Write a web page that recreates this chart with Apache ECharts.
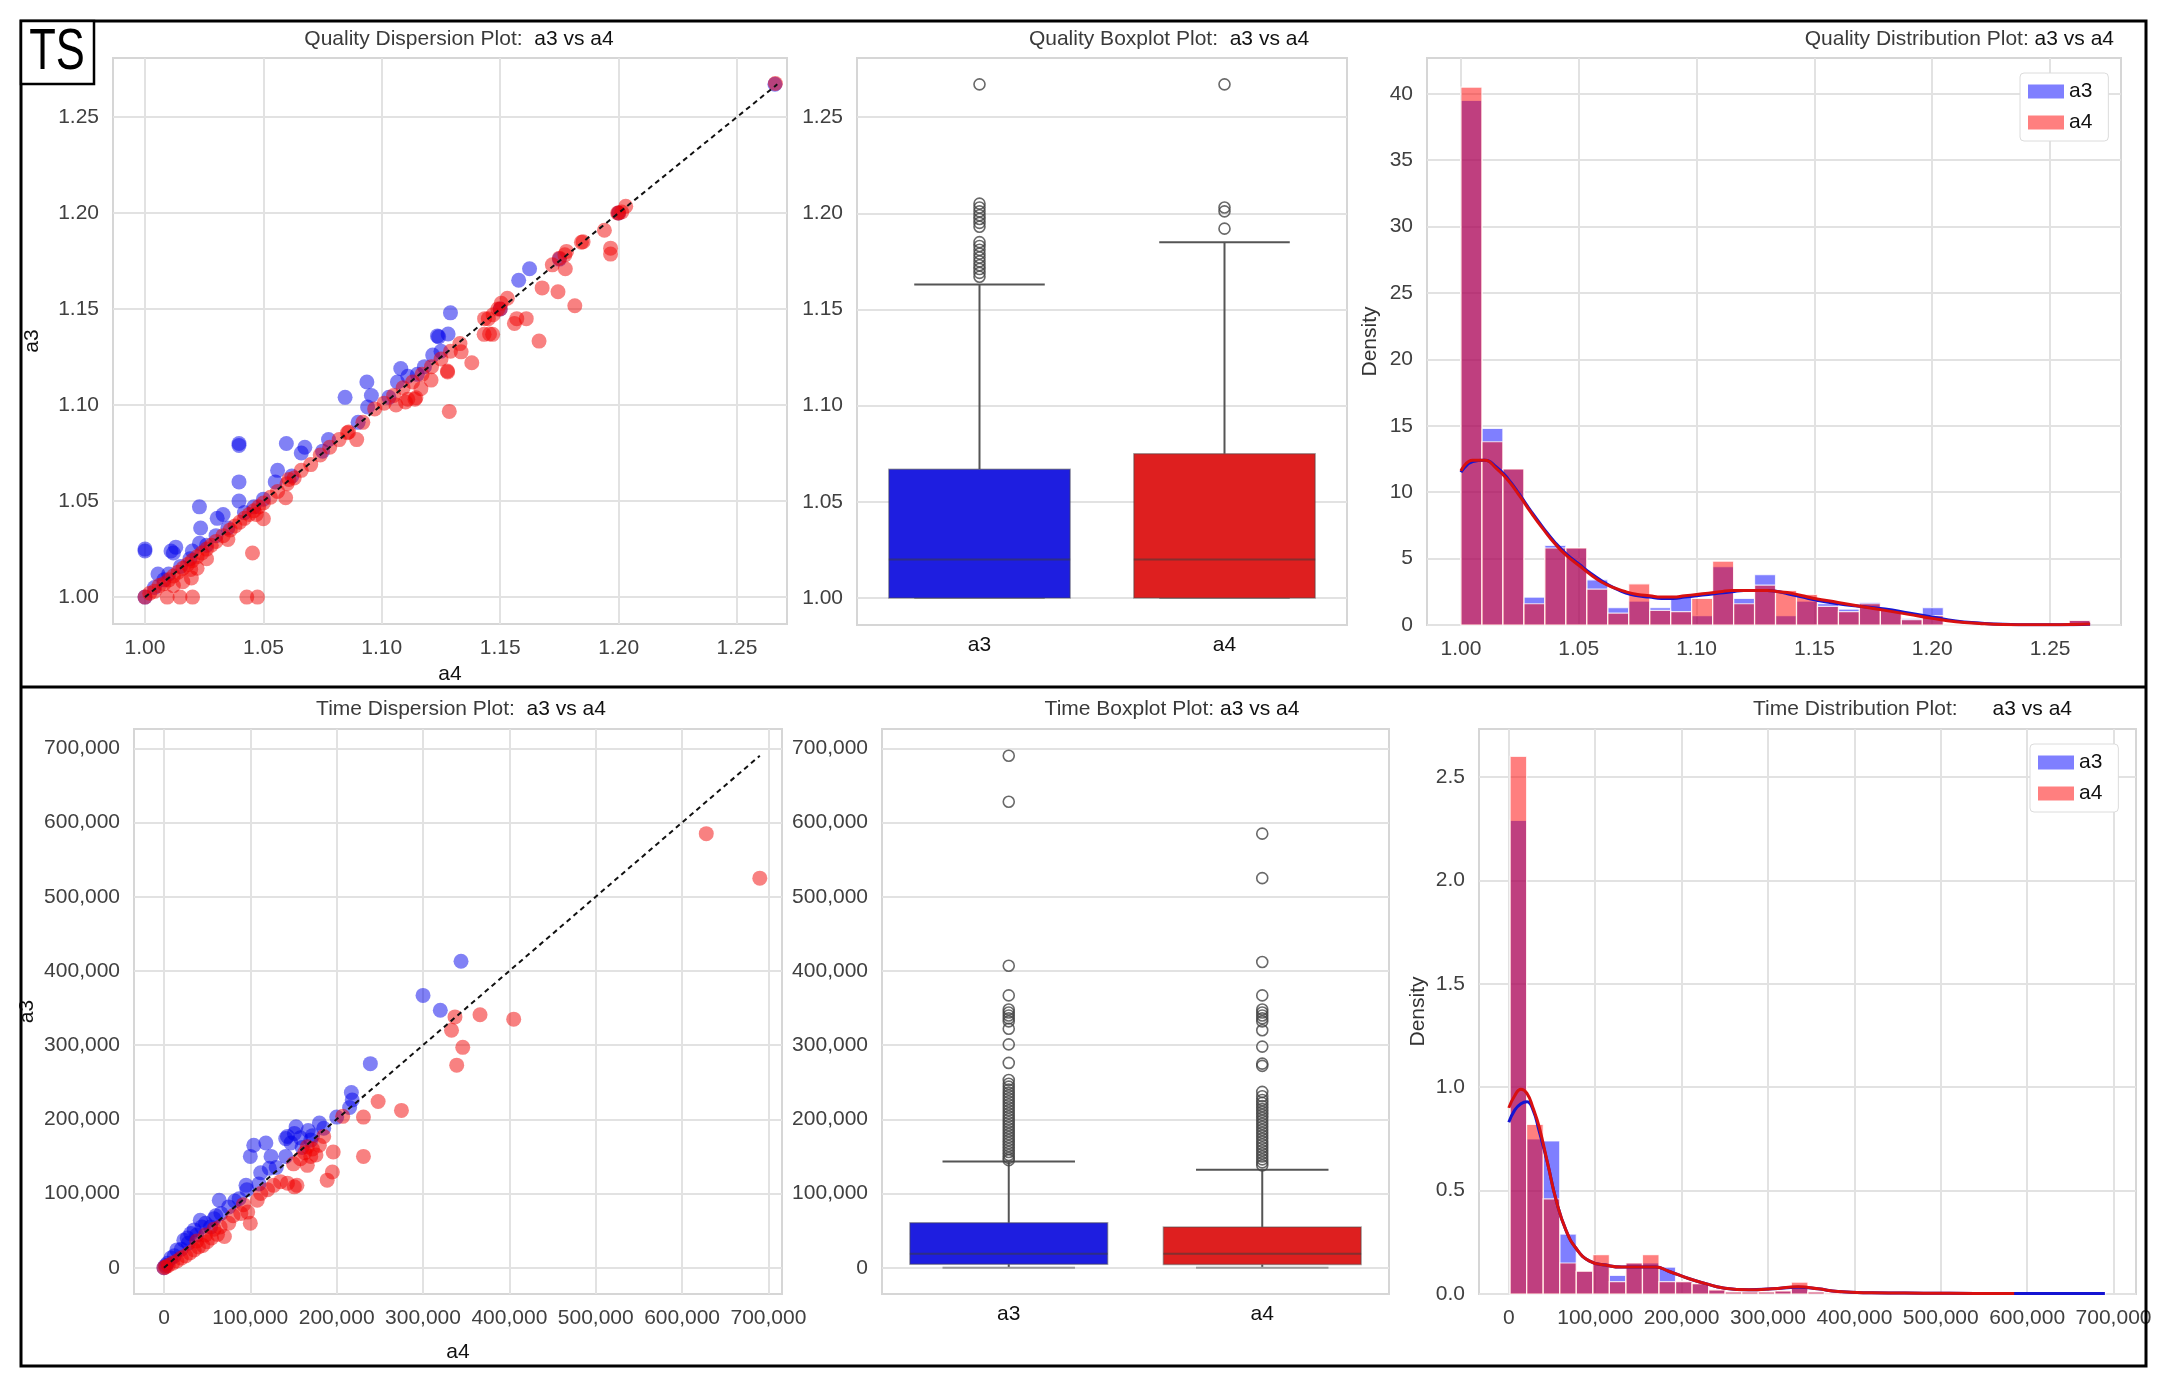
<!DOCTYPE html>
<html>
<head>
<meta charset="utf-8">
<title>Quality / Time: a3 vs a4</title>
<script src="https://cdn.jsdelivr.net/npm/echarts@6.0.0/dist/echarts.min.js"></script>
<style>
  html, body { margin: 0; padding: 0; background: #fff; }
  #chart { width: 2166px; height: 1384px; }
</style>
</head>
<body>
<div id="chart"></div>
<script>
// ---------- data ----------
const qualityTicks = [1.00, 1.05, 1.10, 1.15, 1.20, 1.25];
const timeTicks = [0, 100000, 200000, 300000, 400000, 500000, 600000, 700000];
const qualityDensityTicks = [0, 5, 10, 15, 20, 25, 30, 35, 40];
const timeDensityTicks = [0, 0.5, 1.0, 1.5, 2.0, 2.5];
const boxCategories = ['a3', 'a4'];

// dispersion plots: [x, y]
const qualityBluePoints = [
  [1.000, 1.025], [1.000, 1.024], [1.0055, 1.012], [1.011, 1.024], [1.013, 1.026], [1.012, 1.023],
  [1.023, 1.047], [1.0235, 1.036], [1.023, 1.028], [1.0305, 1.041], [1.033, 1.043], [1.0397, 1.080],
  [1.0397, 1.079], [1.0397, 1.060], [1.0397, 1.050], [1.056, 1.066], [1.055, 1.060], [1.0597, 1.080],
  [1.0675, 1.078], [1.066, 1.075], [1.0775, 1.082], [1.0845, 1.104], [1.0937, 1.112], [1.0956, 1.105],
  [1.094, 1.099], [1.108, 1.119], [1.1066, 1.112], [1.111, 1.115], [1.1215, 1.126], [1.124, 1.1355],
  [1.1235, 1.136], [1.128, 1.137], [1.129, 1.148], [1.1578, 1.165], [1.1624, 1.171],
  [1.000, 1.000], [1.004, 1.005], [1.008, 1.009], [1.010, 1.012], [1.015, 1.016], [1.019, 1.020],
  [1.020, 1.024], [1.026, 1.027], [1.030, 1.032], [1.035, 1.036], [1.042, 1.044], [1.046, 1.047],
  [1.050, 1.051], [1.062, 1.063], [1.075, 1.076], [1.090, 1.091], [1.103, 1.104], [1.115, 1.116],
  [1.118, 1.120], [1.125, 1.128], [1.150, 1.150], [1.175, 1.176], [1.200, 1.200], [1.266, 1.267]
];
const qualityRedPoints = [
  [1.000, 1.000], [1.002, 1.002], [1.004, 1.003], [1.006, 1.006], [1.008, 1.007], [1.010, 1.009],
  [1.012, 1.011], [1.014, 1.013], [1.016, 1.015], [1.018, 1.017], [1.020, 1.019], [1.022, 1.021],
  [1.024, 1.023], [1.026, 1.025], [1.028, 1.027], [1.030, 1.029], [1.033, 1.032], [1.036, 1.035],
  [1.038, 1.037], [1.040, 1.039], [1.042, 1.041], [1.044, 1.043], [1.046, 1.045], [1.048, 1.047],
  [1.050, 1.049], [1.053, 1.052], [1.056, 1.055], [1.060, 1.059], [1.063, 1.062], [1.066, 1.066],
  [1.070, 1.069], [1.074, 1.074], [1.078, 1.078], [1.082, 1.082], [1.086, 1.086], [1.092, 1.091],
  [1.097, 1.098], [1.101, 1.101], [1.105, 1.105], [1.109, 1.109], [1.113, 1.112], [1.117, 1.116],
  [1.121, 1.120], [1.125, 1.124], [1.129, 1.128], [1.133, 1.132], [1.145, 1.145], [1.150, 1.150],
  [1.153, 1.1556], [1.172, 1.173], [1.178, 1.180], [1.185, 1.185], [1.200, 1.200], [1.203, 1.2035],
  [1.2013, 1.2005], [1.2662, 1.2674],
  [1.0094, 1.000], [1.0148, 1.000], [1.0201, 1.000], [1.043, 1.000], [1.0475, 1.000], [1.0454, 1.023],
  [1.0196, 1.010], [1.0193, 1.0144], [1.012, 1.006], [1.016, 1.008], [1.022, 1.015], [1.026, 1.020],
  [1.035, 1.030], [1.050, 1.0408], [1.047, 1.043], [1.0594, 1.0517], [1.0608, 1.0613], [1.0894, 1.082],
  [1.0855, 1.0856], [1.106, 1.100], [1.111, 1.103], [1.1144, 1.1038], [1.1285, 1.0967], [1.1277, 1.1177],
  [1.138, 1.122], [1.1335, 1.1277], [1.1208, 1.113], [1.1165, 1.1085], [1.114, 1.103], [1.110, 1.1016],
  [1.1278, 1.1172], [1.1432, 1.1368], [1.1468, 1.1368], [1.1434, 1.145], [1.1455, 1.137], [1.147, 1.147],
  [1.149, 1.150], [1.1504, 1.153], [1.156, 1.1425], [1.161, 1.145], [1.157, 1.145], [1.1664, 1.1333],
  [1.1677, 1.161], [1.1744, 1.159], [1.1815, 1.1517], [1.175, 1.1765], [1.1775, 1.171], [1.1773, 1.1782],
  [1.1843, 1.1848], [1.194, 1.191], [1.1966, 1.1817], [1.1966, 1.1786], [1.1996, 1.200]
];
const timeBluePoints = [
  [344000, 413000], [300000, 367000], [320000, 347000], [239000, 275000], [217000, 236000], [218000, 226000],
  [215000, 216000], [180000, 195000], [153000, 190000], [143000, 177000], [147000, 168000], [141000, 174000],
  [151000, 181000], [104000, 165000], [118000, 168000], [100000, 150000], [124000, 150000], [141000, 150000],
  [112000, 128000], [122000, 134000], [95000, 111000], [96000, 105000], [64000, 91000], [87000, 93000],
  [42000, 64000], [48000, 60000], [54000, 55000], [31000, 46000], [35000, 51000], [23000, 37000],
  [15000, 24000], [8000, 13000], [4000, 6000], [66000, 73000], [75000, 82000], [82000, 90000],
  [58000, 66000], [38000, 44000], [28000, 33000], [20000, 25000], [12000, 16000], [2000, 3000],
  [0, 0], [160000, 162000], [170000, 172000], [185000, 188000], [200000, 203000], [130000, 135000],
  [110000, 113000], [158000, 175000], [167000, 185000], [172000, 178000], [27000, 40000], [44000, 55000],
  [60000, 70000]
];
const timeRedPoints = [
  [337000, 338000], [366000, 341000], [405000, 335000], [333000, 320000], [346000, 297000], [339000, 273000],
  [248000, 224000], [275000, 212000], [231000, 203000], [207000, 204000], [231000, 150000], [196000, 156000],
  [195000, 129000], [189000, 118000], [185000, 177000], [166000, 163000], [170000, 150000], [166000, 138000],
  [176000, 152000], [158000, 147000], [151000, 109000], [154000, 111000], [143000, 114000], [135000, 116000],
  [127000, 111000], [120000, 105000], [112000, 100000], [108000, 91000], [100000, 60000], [97000, 75000],
  [89000, 73000], [70000, 42000], [62000, 45000], [55000, 40000], [50000, 35000], [45000, 30000],
  [40000, 28000], [35000, 24000], [30000, 20000], [25000, 16000], [20000, 13000], [15000, 9000],
  [10000, 6000], [5000, 3000], [0, 0], [2000, 1000], [628000, 585000], [690000, 525000],
  [80000, 70000], [92000, 85000], [75000, 60000], [65000, 55000], [58000, 52000], [48000, 44000],
  [38000, 36000], [180000, 165000], [172000, 160000], [163000, 155000], [150000, 140000]
];
const qualityIdentity = [1.0, 1.267];
const timeIdentity = [0, 690000];

// boxplots: [min, q1, median, q3, max]
const qualityBoxA3 = [1.000, 1.000, 1.020, 1.067, 1.163];
const qualityBoxA4 = [1.000, 1.000, 1.020, 1.075, 1.185];
const qualityOutliersA3 = [1.167, 1.169, 1.171, 1.173, 1.175, 1.177, 1.179, 1.181, 1.183, 1.185,
  1.193, 1.195, 1.197, 1.199, 1.201, 1.203, 1.205, 1.267];
const qualityOutliersA4 = [1.192, 1.201, 1.203, 1.267];
const timeBoxA3 = [0, 4600, 19000, 60600, 143000];
const timeBoxA4 = [0, 4300, 19000, 55000, 132000];
const timeOutliersA3 = [690000, 628000, 407000, 367000, 348000, 344000, 340000, 336000, 332000, 322000,
  301000, 276000, 253000, 248000, 244000, 240000, 236000, 232000, 228000, 224000, 220000, 216000,
  212000, 208000, 204000, 200000, 196000, 192000, 188000, 184000, 180000, 176000, 172000, 168000,
  164000, 160000, 156000, 152000, 148000, 145000];
const timeOutliersA4 = [585000, 525000, 412000, 367000, 348000, 344000, 340000, 336000, 332000, 320000,
  298000, 275000, 272000, 237000, 231000, 226000, 222000, 218000, 214000, 210000, 206000, 202000,
  198000, 194000, 190000, 186000, 182000, 178000, 174000, 170000, 166000, 162000, 158000, 154000,
  150000, 146000, 142000, 138000];

// histograms (density per bin)
const qualityBinStart = 1.0;
const qualityBinWidth = 0.0089;
const qualityHistA3 = [39.5, 14.8, 11.75, 2.1, 6.0, 5.8, 3.4, 1.3, 1.8, 1.3, 2.2, 0.7, 4.4, 2.0, 3.8,
  0.7, 1.8, 1.6, 1.2, 1.7, 1.1, 0.5, 1.3, 0, 0, 0, 0, 0, 0, 0.35];
const qualityHistA4 = [40.5, 13.8, 11.75, 1.6, 5.8, 5.8, 2.7, 0.9, 3.1, 1.1, 1.0, 2.0, 4.8, 1.6, 3.0,
  2.6, 2.3, 1.4, 1.0, 1.6, 1.1, 0.4, 0.7, 0, 0, 0, 0, 0, 0, 0.35];
const qualityKdeX = [1.000, 1.005, 1.010, 1.015, 1.020, 1.025, 1.030, 1.035, 1.040, 1.045, 1.050, 1.055,
  1.060, 1.065, 1.070, 1.075, 1.080, 1.085, 1.090, 1.095, 1.100, 1.105, 1.110, 1.115, 1.120, 1.125,
  1.130, 1.135, 1.140, 1.145, 1.150, 1.160, 1.170, 1.180, 1.190, 1.200, 1.210, 1.220, 1.230, 1.240,
  1.250, 1.260, 1.267];
const qualityKdeA3 = [11.5, 12.3, 12.4, 11.9, 11.0, 9.8, 8.5, 7.3, 6.2, 5.3, 4.6, 3.9, 3.3, 2.8, 2.4, 2.2,
  2.1, 2.0, 2.0, 2.1, 2.2, 2.3, 2.4, 2.5, 2.6, 2.6, 2.6, 2.5, 2.3, 2.1, 1.9, 1.6, 1.4, 1.2, 0.9, 0.6,
  0.3, 0.15, 0.05, 0.02, 0.01, 0.02, 0.05];
const qualityKdeA4 = [11.6, 12.4, 12.4, 11.8, 10.9, 9.7, 8.4, 7.2, 6.1, 5.2, 4.5, 3.8, 3.2, 2.8, 2.5, 2.3,
  2.2, 2.1, 2.1, 2.2, 2.3, 2.4, 2.5, 2.6, 2.6, 2.6, 2.6, 2.5, 2.4, 2.2, 2.0, 1.7, 1.4, 1.1, 0.8, 0.5,
  0.25, 0.12, 0.04, 0.02, 0.02, 0.04, 0.08];

const timeBinStart = 1500;
const timeBinWidth = 19150;
const timeHistA3 = [2.29, 0.75, 0.74, 0.29, 0.11, 0.15, 0.09, 0.15, 0.15, 0.13, 0.06, 0.05, 0.02, 0.01,
  0.01, 0.01, 0.015, 0.04, 0.01, 0.005, 0, 0, 0, 0, 0, 0, 0, 0, 0, 0, 0.003, 0, 0.003, 0, 0, 0.003];
const timeHistA4 = [2.60, 0.82, 0.46, 0.15, 0.11, 0.19, 0.06, 0.15, 0.19, 0.06, 0.06, 0.05, 0.02, 0.01,
  0.01, 0.01, 0.015, 0.057, 0.01, 0.005, 0, 0, 0, 0, 0, 0, 0.003, 0, 0, 0, 0.003, 0, 0, 0, 0, 0];
const timeKdeXA3 = [0, 7000, 14000, 21000, 28000, 35000, 45000, 55000, 66000, 78000, 93000, 112000, 131000,
  151000, 170000, 185000, 208000, 228000, 247000, 278000, 305000, 335000, 358000, 381000, 420000,
  480000, 540000, 585000, 640000, 690000];
const timeKdeA3 = [0.83, 0.89, 0.92, 0.93, 0.89, 0.79, 0.63, 0.45, 0.31, 0.22, 0.16, 0.14, 0.13, 0.13, 0.13,
  0.11, 0.075, 0.05, 0.03, 0.02, 0.025, 0.033, 0.025, 0.012, 0.006, 0.004, 0.003, 0.003, 0.002, 0.002];
const timeKdeXA4 = [0, 7000, 14000, 21000, 28000, 35000, 45000, 55000, 66000, 78000, 93000, 112000, 131000,
  151000, 170000, 185000, 208000, 228000, 247000, 278000, 305000, 335000, 358000, 381000, 420000,
  480000, 540000, 585000];
const timeKdeA4 = [0.90, 0.96, 0.99, 0.97, 0.90, 0.81, 0.63, 0.45, 0.31, 0.22, 0.16, 0.14, 0.13, 0.13, 0.13,
  0.11, 0.075, 0.05, 0.03, 0.02, 0.025, 0.035, 0.025, 0.012, 0.006, 0.004, 0.003, 0.002];

// ---------- styling ----------
const FONT = 'Liberation Sans, Arial, sans-serif';
const gridColor = '#e2e2e2';
const labelStyle = { fontFamily: FONT, fontSize: 21, color: '#404040' };
const BLUE_PT = 'rgba(0,0,235,0.62)';
const RED_PT = 'rgba(240,0,0,0.62)';
const BLUE_BAR = 'rgba(0,0,255,0.5)';
const RED_BAR = 'rgba(255,0,0,0.5)';
const POINT_SIZE = 15;

const fmt2 = v => v.toFixed(2);
const fmtThousands = v => Math.round(v).toLocaleString('en-US');
const fmtInt = v => String(Math.round(v));
const fmt1 = v => v.toFixed(1);

function valueAxis(gridIndex, min, max, ticks, formatter, extra) {
  return Object.assign({
    type: 'value',
    gridIndex: gridIndex,
    min: min,
    max: max,
    axisLine: { show: false },
    axisTick: { show: false, customValues: ticks },
    axisLabel: Object.assign({ customValues: ticks, formatter: formatter, margin: 14 }, labelStyle),
    splitLine: { show: true, lineStyle: { color: gridColor, width: 2 } }
  }, extra || {});
}

function categoryAxis(gridIndex) {
  return {
    type: 'category',
    gridIndex: gridIndex,
    data: boxCategories,
    axisLine: { show: false },
    axisTick: { show: false },
    splitLine: { show: false },
    axisLabel: { fontFamily: FONT, fontSize: 21, color: '#111', margin: 10 }
  };
}

const nameStyle = { fontFamily: FONT, fontSize: 21, color: '#111' };

function histRender(fill) {
  return function (params, api) {
    const p0 = api.coord([api.value(0), api.value(2)]);
    const p1 = api.coord([api.value(1), 0]);
    return {
      type: 'rect',
      shape: { x: p0[0], y: p0[1], width: p1[0] - p0[0], height: p1[1] - p0[1] },
      style: { fill: fill, stroke: 'rgba(255,255,255,0.8)', lineWidth: 1.2 }
    };
  };
}

function boxRender(fills, boxFrac, capFrac) {
  return function (params, api) {
    const idx = api.value(0);
    const band = api.size([1, 0])[0];
    const w = band * boxFrac;
    const cw = w * capFrac;
    const cx = api.coord([idx, 0])[0];
    const y = k => api.coord([idx, api.value(k)])[1];
    const yMin = y(1), yQ1 = y(2), yMed = y(3), yQ3 = y(4), yMax = y(5);
    const lineStyle = { stroke: '#555', lineWidth: 2 };
    return {
      type: 'group',
      children: [
        { type: 'line', shape: { x1: cx, y1: yQ3, x2: cx, y2: yMax }, style: lineStyle },
        { type: 'line', shape: { x1: cx, y1: yQ1, x2: cx, y2: yMin }, style: lineStyle },
        { type: 'line', shape: { x1: cx - cw / 2, y1: yMax, x2: cx + cw / 2, y2: yMax }, style: lineStyle },
        { type: 'line', shape: { x1: cx - cw / 2, y1: yMin, x2: cx + cw / 2, y2: yMin }, style: { stroke: '#999', lineWidth: 2 } },
        { type: 'rect', shape: { x: cx - w / 2, y: yQ3, width: w, height: yQ1 - yQ3 },
          style: { fill: fills[idx], stroke: 'rgba(70,70,70,0.45)', lineWidth: 1.5 } },
        { type: 'line', shape: { x1: cx - w / 2, y1: yMed, x2: cx + w / 2, y2: yMed },
          style: { stroke: 'rgba(60,60,60,0.55)', lineWidth: 2 } }
      ]
    };
  };
}

const histBins = (start, width, heights) => heights.map((h, i) => [start + i * width, start + (i + 1) * width, h]);
const pairs = (xs, ys) => xs.map((x, i) => [x, ys[i]]);
const outlierData = (idx, vals) => vals.map(v => [idx, v]);

function outlierSeries(xi, data) {
  return {
    type: 'scatter', xAxisIndex: xi, yAxisIndex: xi, data: data, symbol: 'circle', symbolSize: 11, z: 5,
    itemStyle: { color: 'rgba(255,255,255,0)', borderColor: '#444', borderWidth: 1.6 }
  };
}

const titleRich = {
  g: { fontFamily: FONT, fontSize: 21, fill: '#3a3a3a' },
  k: { fontFamily: FONT, fontSize: 21, fill: '#111' }
};
function titleText(x, y, align, lead, tail) {
  return {
    type: 'text', x: x, y: y,
    style: { text: '{g|' + lead + '}{k|' + tail + '}', rich: titleRich, align: align, verticalAlign: 'middle' }
  };
}

const chart = echarts.init(document.getElementById('chart'), null, { renderer: 'canvas' });

chart.setOption({
  animation: false,
  backgroundColor: '#fff',
  grid: [
    { left: 113, top: 58, width: 674, height: 566 },
    { left: 857, top: 58, width: 490, height: 567 },
    { left: 1427, top: 58, width: 694, height: 567 },
    { left: 134, top: 729, width: 648, height: 565 },
    { left: 882, top: 729, width: 507, height: 565 },
    { left: 1479, top: 729, width: 657, height: 565 }
  ].map(g => Object.assign({ show: true, borderColor: '#d6d6d6', borderWidth: 2, containLabel: false }, g)),
  xAxis: [
    valueAxis(0, 0.9865, 1.2711, qualityTicks, fmt2, { name: 'a4', nameLocation: 'middle', nameGap: 40, nameTextStyle: nameStyle }),
    categoryAxis(1),
    valueAxis(2, 0.9856, 1.2801, qualityTicks, fmt2),
    valueAxis(3, -34700, 715700, timeTicks, fmtThousands, { name: 'a4', nameLocation: 'middle', nameGap: 48, nameTextStyle: nameStyle }),
    categoryAxis(4),
    valueAxis(5, -34500, 726000, timeTicks, fmtThousands)
  ],
  yAxis: [
    valueAxis(0, 0.986, 1.2807, qualityTicks, fmt2, { name: 'a3', nameLocation: 'middle', nameGap: 70, nameTextStyle: nameStyle }),
    valueAxis(1, 0.986, 1.2807, qualityTicks, fmt2),
    valueAxis(2, 0, 42.7, qualityDensityTicks, fmtInt, { name: 'Density', nameLocation: 'middle', nameGap: 46, nameTextStyle: Object.assign({}, nameStyle, { color: '#333' }) }),
    valueAxis(3, -35400, 726000, timeTicks, fmtThousands, { name: 'a3', nameLocation: 'middle', nameGap: 96, nameTextStyle: nameStyle }),
    valueAxis(4, -35400, 726000, timeTicks, fmtThousands),
    valueAxis(5, 0, 2.732, timeDensityTicks, fmt1, { name: 'Density', nameLocation: 'middle', nameGap: 50, nameTextStyle: Object.assign({}, nameStyle, { color: '#333' }) })
  ],
  legend: [
    {
      left: 2020, top: 73, orient: 'vertical', icon: 'rect', itemWidth: 36, itemHeight: 14, itemGap: 10,
      padding: [8, 16, 8, 8], backgroundColor: '#fff', borderColor: '#dcdcdc', borderWidth: 1, borderRadius: 4,
      textStyle: { fontFamily: FONT, fontSize: 21, color: '#111' },
      data: [{ name: 'a3', itemStyle: { color: BLUE_BAR } }, { name: 'a4', itemStyle: { color: RED_BAR } }]
    },
    {
      left: 2030, top: 744, orient: 'vertical', icon: 'rect', itemWidth: 36, itemHeight: 14, itemGap: 10,
      padding: [8, 16, 8, 8], backgroundColor: '#fff', borderColor: '#dcdcdc', borderWidth: 1, borderRadius: 4,
      textStyle: { fontFamily: FONT, fontSize: 21, color: '#111' },
      data: [{ name: 'a3', itemStyle: { color: BLUE_BAR } }, { name: 'a4', itemStyle: { color: RED_BAR } }]
    }
  ],
  series: [
    // quality dispersion
    { type: 'scatter', xAxisIndex: 0, yAxisIndex: 0, data: qualityBluePoints, symbolSize: POINT_SIZE, itemStyle: { color: BLUE_PT } },
    { type: 'scatter', xAxisIndex: 0, yAxisIndex: 0, data: qualityRedPoints, symbolSize: POINT_SIZE, itemStyle: { color: RED_PT } },
    { type: 'line', xAxisIndex: 0, yAxisIndex: 0, data: pairs(qualityIdentity, qualityIdentity), showSymbol: false, z: 4,
      lineStyle: { color: '#111', width: 2, type: [5, 4] } },
    // quality boxplot
    { type: 'custom', xAxisIndex: 1, yAxisIndex: 1, renderItem: boxRender(['#1e1ee0', '#de1f1f'], 0.74, 0.72),
      data: [[0].concat(qualityBoxA3), [1].concat(qualityBoxA4)], encode: { x: 0, y: [1, 2, 3, 4, 5] } },
    outlierSeries(1, outlierData(0, qualityOutliersA3).concat(outlierData(1, qualityOutliersA4))),
    // quality distribution
    { name: 'a3', type: 'custom', xAxisIndex: 2, yAxisIndex: 2, renderItem: histRender(BLUE_BAR),
      data: histBins(qualityBinStart, qualityBinWidth, qualityHistA3), encode: { x: [0, 1], y: 2 } },
    { type: 'line', xAxisIndex: 2, yAxisIndex: 2, data: pairs(qualityKdeX, qualityKdeA3), smooth: true, showSymbol: false,
      lineStyle: { color: '#1414d2', width: 3 } },
    { name: 'a4', type: 'custom', xAxisIndex: 2, yAxisIndex: 2, renderItem: histRender(RED_BAR),
      data: histBins(qualityBinStart, qualityBinWidth, qualityHistA4), encode: { x: [0, 1], y: 2 } },
    { type: 'line', xAxisIndex: 2, yAxisIndex: 2, data: pairs(qualityKdeX, qualityKdeA4), smooth: true, showSymbol: false,
      lineStyle: { color: '#d81010', width: 3 } },
    // time dispersion
    { type: 'scatter', xAxisIndex: 3, yAxisIndex: 3, data: timeBluePoints, symbolSize: POINT_SIZE, itemStyle: { color: BLUE_PT } },
    { type: 'scatter', xAxisIndex: 3, yAxisIndex: 3, data: timeRedPoints, symbolSize: POINT_SIZE, itemStyle: { color: RED_PT } },
    { type: 'line', xAxisIndex: 3, yAxisIndex: 3, data: pairs(timeIdentity, timeIdentity), showSymbol: false, z: 4,
      lineStyle: { color: '#111', width: 2, type: [5, 4] } },
    // time boxplot
    { type: 'custom', xAxisIndex: 4, yAxisIndex: 4, renderItem: boxRender(['#1e1ee0', '#de1f1f'], 0.78, 0.67),
      data: [[0].concat(timeBoxA3), [1].concat(timeBoxA4)], encode: { x: 0, y: [1, 2, 3, 4, 5] } },
    outlierSeries(4, outlierData(0, timeOutliersA3).concat(outlierData(1, timeOutliersA4))),
    // time distribution
    { name: 'a3', type: 'custom', xAxisIndex: 5, yAxisIndex: 5, renderItem: histRender(BLUE_BAR),
      data: histBins(timeBinStart, timeBinWidth, timeHistA3), encode: { x: [0, 1], y: 2 } },
    { type: 'line', xAxisIndex: 5, yAxisIndex: 5, data: pairs(timeKdeXA3, timeKdeA3), smooth: true, showSymbol: false,
      lineStyle: { color: '#1414d2', width: 3 } },
    { name: 'a4', type: 'custom', xAxisIndex: 5, yAxisIndex: 5, renderItem: histRender(RED_BAR),
      data: histBins(timeBinStart, timeBinWidth, timeHistA4), encode: { x: [0, 1], y: 2 } },
    { type: 'line', xAxisIndex: 5, yAxisIndex: 5, data: pairs(timeKdeXA4, timeKdeA4), smooth: true, showSymbol: false,
      lineStyle: { color: '#d81010', width: 3 } }
  ],
  graphic: [
    // outer frame, divider and the TS tag
    { type: 'rect', shape: { x: 21, y: 21, width: 2125, height: 1345 }, style: { fill: 'none', stroke: '#000', lineWidth: 3 }, z: 100 },
    { type: 'line', shape: { x1: 21, y1: 687, x2: 2146, y2: 687 }, style: { stroke: '#000', lineWidth: 3 }, z: 100 },
    { type: 'rect', shape: { x: 21, y: 21, width: 73, height: 63 }, style: { fill: '#fff', stroke: '#000', lineWidth: 2.5 }, z: 100 },
    { type: 'text', x: 57, y: 53, scaleX: 0.75, z: 101,
      style: { text: 'TS', fontFamily: FONT, fontSize: 58, fill: '#000', align: 'center', verticalAlign: 'middle' } },
    titleText(459, 39, 'center', 'Quality Dispersion Plot:  ', 'a3 vs a4'),
    titleText(1169, 39, 'center', 'Quality Boxplot Plot:  ', 'a3 vs a4'),
    titleText(2114, 39, 'right', 'Quality Distribution Plot: ', 'a3 vs a4'),
    titleText(461, 709, 'center', 'Time Dispersion Plot:  ', 'a3 vs a4'),
    titleText(1172, 709, 'center', 'Time Boxplot Plot: ', 'a3 vs a4'),
    titleText(1753, 709, 'left', 'Time Distribution Plot:      ', 'a3 vs a4')
  ]
});
</script>
</body>
</html>
